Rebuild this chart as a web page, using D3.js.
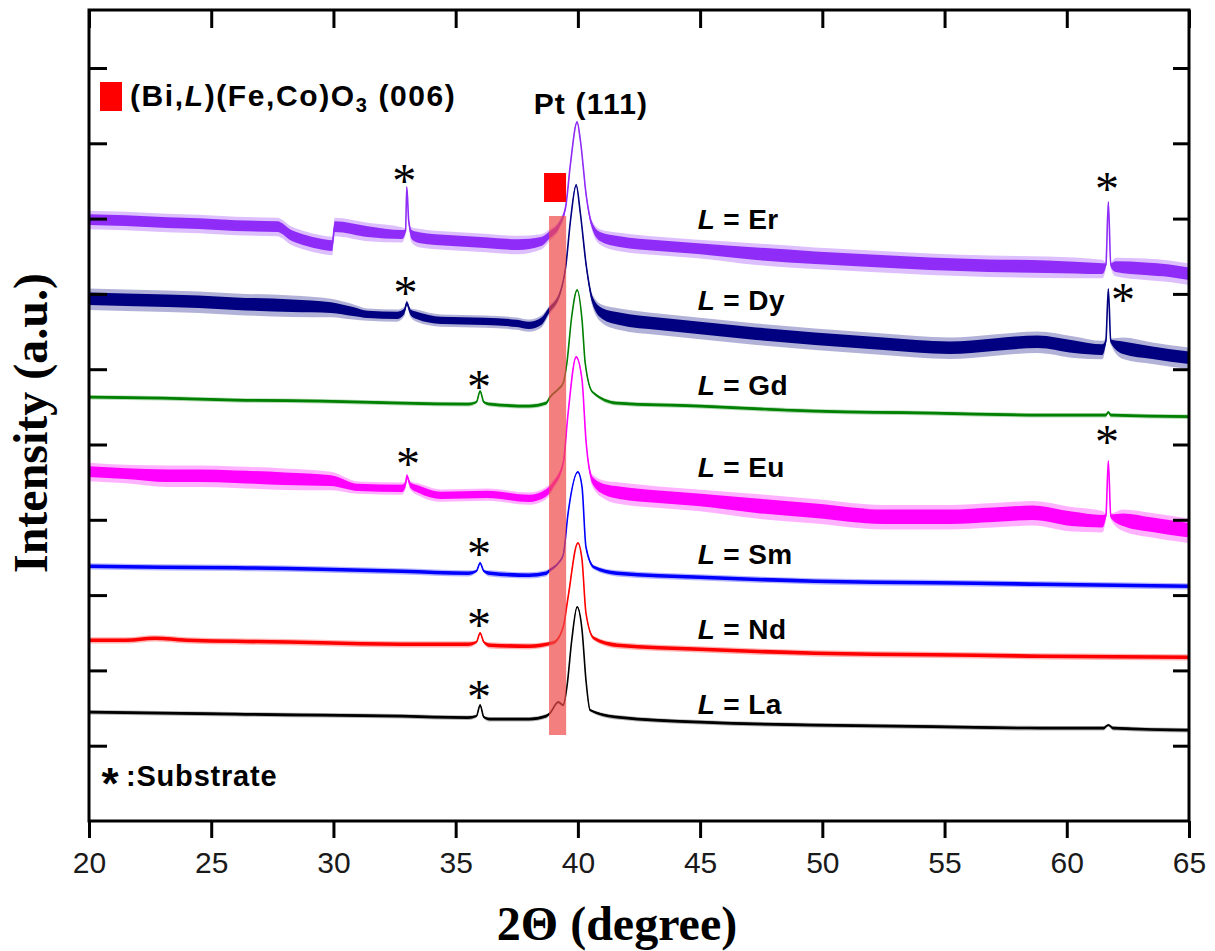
<!DOCTYPE html>
<html>
<head>
  <meta charset="utf-8">
  <script src="https://cdnjs.cloudflare.com/ajax/libs/d3/7.8.5/d3.min.js"></script>
  <style>
    body { margin: 0; background: #fff; }
    text { font-family: "Liberation Sans", Arial, sans-serif; }
  </style>
</head>
<body>
  <svg id="chart" width="1215" height="951"></svg>

  <script>
    // each point: [2theta, intensity (a.u.), half width of the noise band]
    var er = [[20, 602, 6], [21.5, 601, 6], [23.2, 599, 6], [24.5, 598, 6], [26, 596, 6], [27.7, 595, 6],
      [28.3, 586, 6], [28.9, 581, 6], [29.4, 578, 6], [29.95, 576, 6], [30.05, 595, 6], [31.4, 590, 6],
      [32.8, 587, 5], [32.95, 590, 2], [33.0, 634, 1], [33.08, 600, 2], [33.2, 587, 5], [33.5, 584, 6],
      [34.85, 581, 6], [36.2, 579, 6], [37.55, 577, 6], [38.5, 580, 5], [38.82, 586, 4], [39.27, 598, 3],
      [39.5, 614, 2], [39.7, 658, 1], [39.97, 699, 1], [40.1, 681, 1], [40.35, 624, 2], [40.55, 598, 3],
      [40.9, 585, 5], [41.7, 580, 6], [43.3, 576, 6], [44.9, 573, 6], [47.3, 568, 7], [49.7, 564, 7],
      [52, 561, 7], [54.4, 558, 7], [56.8, 556, 7], [59.2, 555, 7], [61.45, 553, 6], [61.6, 556, 2],
      [61.7, 619, 1], [61.8, 556, 2], [62, 555, 6], [63.2, 553, 7], [64.2, 551, 7], [65, 548, 7]];

    var dy = [[20, 523, 7], [21.5, 522, 7], [23.2, 521, 7], [24.5, 520, 7], [26, 518, 7], [28.3, 516, 7],
      [29.9, 514, 6], [30.8, 510, 5], [31.4, 507, 4], [32.6, 506, 4], [32.9, 510, 3], [33.0, 518, 2],
      [33.15, 509, 3], [33.4, 506, 4], [34.4, 501, 4], [36.2, 500, 4], [37.5, 498, 4], [38, 496, 4],
      [38.5, 500, 4], [38.82, 511, 3], [39.27, 528, 2], [39.5, 554, 1.5], [39.7, 601, 1], [39.93, 636, 1],
      [40.1, 608, 1], [40.35, 554, 2], [40.6, 521, 4], [41.0, 508, 6], [41.7, 503, 7], [43.3, 498, 7],
      [44.9, 494, 7], [47.3, 488, 7], [49.7, 483, 7], [52.5, 478, 7], [55.2, 474, 7], [57.0, 477, 7],
      [58.8, 480, 7], [60.3, 475, 7], [61.45, 472, 6], [61.6, 480, 2], [61.7, 532, 1], [61.8, 480, 2],
      [62.3, 474, 7], [63.5, 469, 7], [65, 464, 7]];

    var gd = [[20, 424, 1.5], [23, 423, 1.5], [26, 421, 1.5], [29.5, 420, 1.5], [32.8, 418, 1.5],
      [35.5, 417, 1.5], [35.85, 419, 1], [36.0, 430, 0.8], [36.15, 419, 1], [36.4, 417, 1.5], [38, 415, 1.5],
      [38.7, 418, 1.5], [38.86, 424, 1], [39.2, 432, 1], [39.4, 438, 1], [39.55, 458, 1], [39.75, 505, 0.8],
      [39.97, 531, 0.8], [40.17, 501, 0.8], [40.3, 458, 1], [40.6, 429, 1], [41.6, 418, 1.5], [45, 415, 1.5],
      [49.7, 410, 1.5], [54.5, 408, 1.5], [59, 406, 1.5], [61.6, 406, 1.5], [61.7, 409, 1], [61.8, 406, 1.5],
      [65, 404.5, 1.5]];

    var eu = [[20, 350, 6], [21.5, 348, 6], [23.2, 346, 7], [24.5, 346, 7], [26, 345, 7], [28, 343, 7],
      [29.9, 341, 6], [31, 334, 4], [32.8, 333, 4], [32.95, 337, 3], [33.0, 345, 2], [33.15, 336, 3],
      [33.5, 332, 4], [34.4, 326, 4], [36.3, 327, 4], [38, 323, 4], [38.7, 328.5, 4], [39, 337, 3],
      [39.4, 358, 2], [39.6, 408, 1], [39.93, 464, 1], [40.17, 441, 1], [40.33, 381, 1.5], [40.6, 341, 4],
      [41.1, 332, 6], [41.7, 329, 7], [43.3, 325, 7], [44.9, 322, 7], [47.3, 316, 8], [49.7, 311, 8],
      [52.5, 305, 8], [55.2, 305, 8], [57, 307, 8], [58.6, 309, 8], [60.2, 303, 8], [61.45, 300.5, 7],
      [61.6, 305, 2], [61.7, 360, 1], [61.8, 305, 2], [62.3, 302, 7], [63.5, 297, 8], [65, 291.5, 8]];

    var sm = [[20, 255, 2], [23, 254, 2], [26, 253.5, 2], [29.5, 252, 2], [32.8, 250, 2], [35.5, 248, 2],
      [35.85, 250, 1], [36.0, 258, 1], [36.15, 250, 1], [36.4, 248, 2], [38, 246, 2], [38.7, 248, 2],
      [38.86, 251, 1.5], [39.2, 258, 1], [39.4, 266, 1], [39.6, 308, 1], [40.0, 349, 0.8], [40.17, 334, 0.8],
      [40.33, 274, 1], [40.65, 254, 1.5], [41.6, 248, 2], [45, 244, 2], [49.7, 240, 2], [54.5, 238.5, 2],
      [59, 237, 2], [65, 235, 2]];

    var nd = [[20, 181, 2], [21.5, 181, 2], [22.7, 183, 2], [24, 181, 2], [26, 180, 2], [29.5, 178.5, 2],
      [32.8, 177, 2], [35.5, 177, 2], [35.85, 179, 1], [36.0, 188, 1], [36.15, 179, 1], [36.4, 176, 2],
      [38, 175, 2], [39, 178.5, 1.5], [39.4, 194, 1], [39.6, 224, 1], [40.0, 278, 0.8], [40.17, 261, 0.8],
      [40.33, 208, 1], [40.65, 183, 1.5], [41.6, 176, 2], [45, 172, 2], [49.7, 168, 2], [54.5, 166.5, 2],
      [59, 165, 2], [65, 164, 2]];

    var la = [[20, 109, 1.5], [23, 108, 1.5], [26, 107, 1.5], [29.5, 106, 1.5], [32.8, 105, 1.5],
      [35.5, 103.5, 1.5], [35.85, 105, 1], [36.0, 116, 1], [36.15, 104, 1], [36.4, 102, 1.5], [38, 102, 1.5],
      [38.7, 105, 1.5], [38.86, 108, 1], [39.2, 119, 1], [39.4, 116, 1], [39.55, 134, 1], [39.75, 181, 0.8],
      [39.97, 214, 0.8], [40.17, 191, 0.8], [40.33, 141, 1], [40.5, 111, 1], [41.6, 104, 1.5], [45, 99, 1.5],
      [49.7, 96, 1.5], [54.5, 94.5, 1.5], [59, 93, 1.5], [61.5, 93, 1.5], [61.7, 96, 1], [61.9, 93, 1.5],
      [65, 91, 1.5]];

    var seriesNames = ["Er", "Dy", "Gd", "Eu", "Sm", "Nd", "La"];
    var seriesData = [er, dy, gd, eu, sm, nd, la];
    var seriesColors = ["#8f2cf7", "#000080", "#008000", "#ff00ff", "#0000ff", "#ff0000", "#000000"];
    // label position: [2theta, intensity of baseline]
    var labelPos = [[44.9, 592], [44.9, 511], [44.9, 426], [44.9, 344], [44.9, 257], [44.9, 182], [44.9, 107]];

    // substrate peaks (*): [2theta, intensity at the star centre]
    var substrateMarks = [[32.9, 646], [32.95, 534], [35.95, 440], [33.05, 363], [35.95, 273], [35.95, 202],
      [35.95, 130], [61.65, 638], [62.3, 527], [61.65, 385]];

    // (Bi,L)(Fe,Co)O3 (006) region
    var bfoBand = [38.82, 39.52];
    var bfoBandRange = [86, 605];

    var xTicks = [20, 25, 30, 35, 40, 45, 50, 55, 60, 65];
    var yTickStep = 75.3;

    var svg = d3.select("#chart");
    var mLeft = 89, mRight = 1189, mTop = 10, mBottom = 821;

    var x = d3.scaleLinear().domain([20, 65]).range([mLeft, mRight]);
    var y = d3.scaleLinear().domain([0, 811]).range([mBottom, mTop]);
    var yTicks = d3.range(1, 11).map(k => k * yTickStep);

    // traces: light fringe + solid noise band + centre line
    function bandOf(k) {
      return d3.area()
        .x(d => x(d[0]))
        .y0(d => y(d[1] - d[2] * k))
        .y1(d => y(d[1] + d[2] * k * 0.8))
        .curve(d3.curveMonotoneX);
    }
    var fringe = bandOf(1.7), core = bandOf(1);
    var line = d3.line()
      .x(d => x(d[0]))
      .y(d => y(d[1]))
      .curve(d3.curveMonotoneX);

    var traces = svg.append("g");
    seriesData.forEach(function (s, i) {
      traces.append("path").attr("d", fringe(s)).attr("fill", seriesColors[i]).attr("opacity", 0.3);
      traces.append("path").attr("d", core(s)).attr("fill", seriesColors[i]);
      traces.append("path").attr("d", line(s))
        .attr("fill", "none").attr("stroke", seriesColors[i]).attr("stroke-width", 1.6);
    });

    // translucent (006) band over traces
    svg.append("rect")
      .attr("x", x(bfoBand[0]))
      .attr("width", x(bfoBand[1]) - x(bfoBand[0]))
      .attr("y", y(bfoBandRange[1]))
      .attr("height", y(bfoBandRange[0]) - y(bfoBandRange[1]))
      .attr("fill", "#f04848").attr("opacity", 0.7);

    svg.append("rect")
      .attr("x", x(bfoBand[0]) - 5).attr("y", 173).attr("width", 22).attr("height", 29)
      .attr("fill", "#ff0000");

    // axes
    function styleAxis(g) {
      g.select(".domain").remove();
      g.selectAll(".tick line").attr("stroke", "#000").attr("stroke-width", 3);
    }
    svg.append("g").attr("transform", "translate(0," + mBottom + ")")
      .call(d3.axisBottom(x).tickValues(xTicks).tickSize(17).tickSizeOuter(0).tickPadding(14))
      .call(styleAxis)
      .selectAll("text").attr("font-size", 30).attr("fill", "#1a1a1a")
      .style("font-family", "'Liberation Sans', Arial, sans-serif");
    svg.append("g").attr("transform", "translate(0," + mTop + ")")
      .call(d3.axisTop(x).tickValues(xTicks).tickSize(-18).tickFormat(""))
      .call(styleAxis);
    svg.append("g").attr("transform", "translate(" + mLeft + ",0)")
      .call(d3.axisLeft(y).tickValues(yTicks).tickSize(-18).tickFormat(""))
      .call(styleAxis);
    svg.append("g").attr("transform", "translate(" + mRight + ",0)")
      .call(d3.axisRight(y).tickValues(yTicks).tickSize(-16).tickFormat(""))
      .call(styleAxis);

    svg.append("rect")
      .attr("x", mLeft).attr("y", mTop).attr("width", mRight - mLeft).attr("height", mBottom - mTop)
      .attr("fill", "none").attr("stroke", "#000").attr("stroke-width", 3);

    // series labels
    labelPos.forEach(function (p, i) {
      var t = svg.append("text")
        .attr("x", x(p[0])).attr("y", y(p[1]))
        .attr("font-size", 28).attr("font-weight", "bold").attr("letter-spacing", 0.4);
      t.append("tspan").attr("font-style", "italic").text("L");
      t.append("tspan").text(" = " + seriesNames[i]);
    });

    // substrate stars
    svg.selectAll("text.star")
      .data(substrateMarks)
      .enter()
      .append("text")
      .attr("class", "star")
      .attr("x", d => x(d[0]))
      .attr("y", d => y(d[1]) + 22)
      .attr("text-anchor", "middle")
      .attr("font-size", 48)
      .style("font-family", "'Liberation Serif', 'Times New Roman', serif")
      .text("*");

    // legend
    svg.append("rect").attr("x", 100).attr("y", 82).attr("width", 22).attr("height", 29).attr("fill", "#ff0000");
    var leg = svg.append("text").attr("x", 130).attr("y", 106)
      .attr("font-size", 30).attr("font-weight", "bold").attr("letter-spacing", 1.6);
    leg.append("tspan").text("(Bi,");
    leg.append("tspan").attr("font-style", "italic").text("L");
    leg.append("tspan").text(")(Fe,Co)O");
    leg.append("tspan").attr("font-size", 20).attr("dy", 6).text("3");
    leg.append("tspan").attr("dy", -6).text(" (006)");

    svg.append("text").attr("x", 591).attr("y", 114)
      .attr("text-anchor", "middle").attr("font-size", 30).attr("font-weight", "bold")
      .attr("letter-spacing", 1.2)
      .text("Pt (111)");

    svg.append("text").attr("x", 110).attr("y", 799)
      .attr("text-anchor", "middle").attr("font-size", 44).attr("font-weight", "bold")
      .text("*");
    svg.append("text").attr("x", 126).attr("y", 786)
      .attr("font-size", 29).attr("font-weight", "bold").attr("letter-spacing", 0.8)
      .text(":Substrate");

    // axis titles
    svg.append("text")
      .attr("x", 617).attr("y", 940)
      .attr("text-anchor", "middle").attr("font-size", 48).attr("font-weight", "bold")
      .style("font-family", "'Liberation Serif', 'Times New Roman', serif")
      .text("2\u0398 (degree)");
    svg.append("text")
      .attr("transform", "translate(47,423) rotate(-90)")
      .attr("text-anchor", "middle").attr("font-size", 48).attr("font-weight", "bold")
      .style("font-family", "'Liberation Serif', 'Times New Roman', serif")
      .text("Intensity (a.u.)");
  </script>
</body>
</html>
